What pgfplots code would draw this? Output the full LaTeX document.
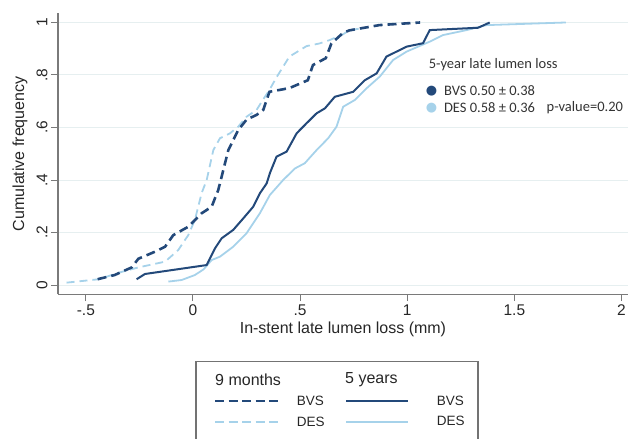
\documentclass[border=0pt]{standalone}
\usepackage{pgfplots}
\pgfplotsset{compat=1.18}
\usepackage{fontspec}
\setmainfont{Liberation Sans}
\newfontfamily\calib{Carlito}
\newfontfamily\dejavu{DejaVu Sans}
\definecolor{dk}{HTML}{23497A}
\definecolor{lt}{HTML}{A6D2EA}
\definecolor{gridc}{HTML}{E6EFF0}
\definecolor{axc}{HTML}{7A7A7A}
\begin{document}
\begin{tikzpicture}
\useasboundingbox (-58pt,-144.8pt) rectangle (572pt,294.2pt);
\begin{axis}[at={(0pt,0pt)}, anchor=south west, scale only axis,
 width=569.9pt, height=280.9pt,
 xmin=-0.63, xmax=2.03, ymin=-0.035, ymax=1.035,
 axis lines*=left, axis line style={axc, line width=1.2pt},
 tick align=outside, major tick length=7pt, tick style={axc, line width=1pt},
 xtick={-0.5,0,0.5,1,1.5,2}, xticklabels={-.5,0,.5,1,1.5,2},
 ytick={0,0.2,0.4,0.6,0.8,1}, yticklabels={0,.2,.4,.6,.8,1},
 yticklabel style={rotate=90, anchor=south},
 ymajorgrids, major grid style={gridc, line width=1pt},
 ticklabel style={font=\fontsize{15.5}{18}\selectfont, text=black!85},
 xlabel={In-stent late lumen loss (mm)}, ylabel={Cumulative frequency},
 label style={font=\fontsize{16}{19}\selectfont, text=black!85},
 xlabel style={at={(axis description cs:0.5,-0.1246)}, anchor=center},
 ylabel style={at={(axis description cs:-0.0667,0.5)}, anchor=center},
 clip=false,
]
% 9 months DES (light dashed)
\addplot[lt, line width=1.8pt, dash pattern=on 8pt off 5pt] coordinates {
(-0.59,0.009) (-0.44,0.022) (-0.333,0.05) (-0.255,0.067) (-0.13,0.089) (-0.069,0.133)
(-0.022,0.19) (0.009,0.248) (0.04,0.349) (0.064,0.40) (0.095,0.514) (0.126,0.559)
(0.173,0.578) (0.211,0.603) (0.25,0.641) (0.297,0.667) (0.326,0.705) (0.357,0.743)
(0.389,0.79) (0.45,0.87) (0.53,0.91) (0.59,0.92) (0.638,0.933) (0.70,0.955) (0.73,0.97) (0.80,0.98)};
% 9 months BVS (dark dashed)
\addplot[dk, line width=2.6pt, dash pattern=on 9pt off 5pt] coordinates {
(-0.445,0.022) (-0.366,0.038) (-0.286,0.067) (-0.255,0.10) (-0.177,0.127) (-0.13,0.146)
(-0.092,0.19) (-0.022,0.222) (0.04,0.273) (0.087,0.298) (0.118,0.362) (0.134,0.413)
(0.165,0.514) (0.188,0.552) (0.211,0.59) (0.25,0.63) (0.297,0.648) (0.328,0.667)
(0.357,0.736) (0.45,0.75) (0.536,0.78) (0.56,0.838) (0.62,0.864) (0.646,0.92)
(0.70,0.96) (0.73,0.97) (0.87,0.99) (1.06,1.0)};
% 5 years DES (light solid)
\addplot[lt, line width=1.8pt] coordinates {
(-0.115,0.013) (-0.053,0.019) (0.009,0.038) (0.05,0.06) (0.087,0.095) (0.126,0.108)
(0.188,0.146) (0.25,0.197) (0.312,0.273) (0.359,0.343) (0.421,0.40) (0.476,0.444)
(0.522,0.464) (0.577,0.514) (0.631,0.559) (0.67,0.603) (0.701,0.679) (0.756,0.705)
(0.81,0.749) (0.872,0.794) (0.934,0.857) (0.997,0.889) (1.105,0.927) (1.167,0.952)
(1.277,0.971) (1.37,0.99) (1.74,1.0)};
% 5 years BVS (dark solid)
\addplot[dk, line width=2pt] coordinates {
(-0.263,0.022) (-0.224,0.042) (0.064,0.076) (0.103,0.14) (0.134,0.178) (0.188,0.21)
(0.235,0.254) (0.281,0.298) (0.312,0.349) (0.344,0.387) (0.359,0.426) (0.39,0.489)
(0.437,0.508) (0.484,0.578) (0.53,0.616) (0.577,0.654) (0.616,0.673) (0.662,0.717)
(0.748,0.736) (0.802,0.78) (0.857,0.806) (0.903,0.87) (0.997,0.908) (1.074,0.921)
(1.105,0.971) (1.331,0.98) (1.385,1.0)};
\node[anchor=west, inner sep=0pt, font=\calib\fontsize{14.5}{17}\selectfont, text=black!80] at (axis cs:1.10,0.838) {5-year late lumen loss};
\node[anchor=center, inner sep=0pt, text=dk, font=\dejavu\fontsize{13}{15}\selectfont] at (axis cs:1.113,0.740) {●};
\node[anchor=west, inner sep=0pt, font=\calib\fontsize{14.5}{17}\selectfont, text=black!80] at (axis cs:1.171,0.740) {BVS 0.50 ± 0.38};
\node[anchor=center, inner sep=0pt, text=lt, font=\dejavu\fontsize{13}{15}\selectfont] at (axis cs:1.113,0.674) {●};
\node[anchor=west, inner sep=0pt, font=\calib\fontsize{14.5}{17}\selectfont, text=black!80] at (axis cs:1.171,0.674) {DES 0.58 ± 0.36};
\node[anchor=west, inner sep=0pt, font=\calib\fontsize{14.5}{17}\selectfont, text=black!80] at (axis cs:1.65,0.674) {p-value=0.20};
\end{axis}
% legend box
\draw[black!55, line width=1.2pt] (138pt,-160pt) -- (138pt,-67.5pt) -- (420pt,-67.5pt) -- (420pt,-160pt);
\node[anchor=west, inner sep=0pt, font=\fontsize{16}{19}\selectfont, text=black!85] at (157pt,-85.8pt) {9 months};
\node[anchor=west, inner sep=0pt, font=\fontsize{16}{19}\selectfont, text=black!85] at (287pt,-85.8pt) {5 years};
\draw[dk, line width=2.4pt, dash pattern=on 9pt off 4.5pt] (157pt,-106.8pt) -- (220pt,-106.8pt);
\draw[lt, line width=1.8pt, dash pattern=on 9pt off 4.5pt] (157pt,-127.5pt) -- (220pt,-127.5pt);
\draw[dk, line width=2pt] (288pt,-107pt) -- (350pt,-107pt);
\draw[lt, line width=1.8pt] (288pt,-127.5pt) -- (350pt,-127.5pt);
\node[anchor=west, inner sep=0pt, font=\fontsize{13.5}{16}\selectfont, text=black!85] at (238.7pt,-106.8pt) {BVS};
\node[anchor=west, inner sep=0pt, font=\fontsize{13.5}{16}\selectfont, text=black!85] at (238.7pt,-127.5pt) {DES};
\node[anchor=west, inner sep=0pt, font=\fontsize{13.5}{16}\selectfont, text=black!85] at (378.7pt,-106.5pt) {BVS};
\node[anchor=west, inner sep=0pt, font=\fontsize{13.5}{16}\selectfont, text=black!85] at (378.7pt,-126.8pt) {DES};
\end{tikzpicture}
\end{document}
